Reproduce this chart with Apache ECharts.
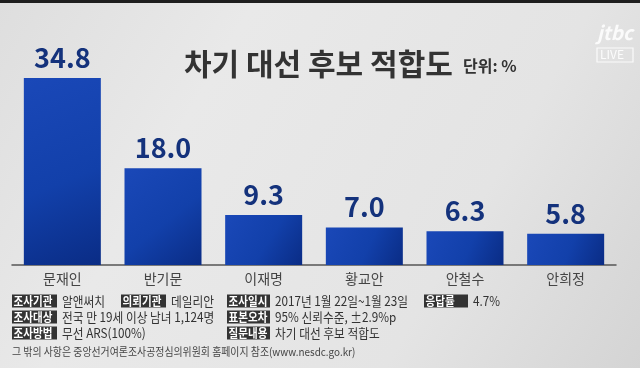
<!DOCTYPE html>
<html><head><meta charset="utf-8">
<script src="https://cdn.jsdelivr.net/npm/echarts@6/dist/echarts.min.js"></script>
<style>html,body{margin:0;padding:0;background:#e2e2e2}#c{width:640px;height:368px}</style>
</head><body><div id="c"></div>
<script>
const categories = ['문재인','반기문','이재명','황교안','안철수','안희정'];
const values = [34.8, 18.0, 9.3, 7.0, 6.3, 5.8];
const titleText = '차기 대선 후보 적합도';
const unitText = '단위: %';
const infoLabels = ['조사기관','의뢰기관','조사일시','응답률','조사대상','표본오차','조사방법','질문내용'];
const infoValues = ['알앤써치','데일리안','2017년 1월 22일~1월 23일','4.7%','전국 만 19세 이상 남녀 1,124명','95% 신뢰수준, ±2.9%p','무선 ARS(100%)','차기 대선 후보 적합도'];
const footerText = '그 밖의 사항은 중앙선거여론조사공정심의위원회 홈페이지 참조(www.nesdc.go.kr)';

const FONT = '"Noto Sans CJK KR", "Noto Sans", sans-serif';
// layout for info boxes: [x, y, boxWidth]
const infoPos = [[12,301,45],[121,301,45],[227,301,43],[424,301,44],[12,317,45],[227,317,43],[12,333,45],[227,333,43]];
const graphics = [
  {type:'rect', shape:{x:0,y:0,width:640,height:3}, style:{fill:'#1e1e1e'}},
  {type:'text', x:463, y:66, style:{text:unitText, font:'bold 16px '+FONT, fill:'#333', textVerticalAlign:'middle'}},
  {type:'text', x:597, y:23, style:{text:'jtbc', font:'bold italic 19px '+FONT, fill:'rgba(255,255,255,0.85)'}},
  {type:'rect', shape:{x:597,y:48,width:36,height:14}, style:{fill:'none', stroke:'rgba(255,255,255,0.85)', lineWidth:1.2}},
  {type:'text', x:600, y:48, style:{text:'LIVE', font:'12px '+FONT, fill:'rgba(255,255,255,0.9)'}},
  {type:'text', x:12, y:352, scaleX:0.9, style:{text:footerText, font:'11px '+FONT, fill:'#444', textVerticalAlign:'middle'}}
];
infoLabels.forEach((lab,i)=>{
  const [x,y,w] = infoPos[i];
  graphics.push({type:'rect', shape:{x:x,y:y-6.5,width:w,height:13}, style:{fill:'#333'}});
  graphics.push({type:'text', x:x+1.5, y:y, scaleX:0.88, style:{text:lab, font:'bold 12px '+FONT, fill:'#fff', textVerticalAlign:'middle', textAlign:'left'}});
  graphics.push({type:'text', x:x+w+5, y:y, scaleX:0.9, style:{text:infoValues[i], font:'13px '+FONT, fill:'#333', textVerticalAlign:'middle', textAlign:'left'}});
});

const chart = echarts.init(document.getElementById('c'));
chart.setOption({
  backgroundColor: new echarts.graphic.LinearGradient(0,0,1,1,[
    {offset:0,color:'#dedede'},{offset:0.3,color:'#e9e9e9'},{offset:0.7,color:'#e4e4e4'},{offset:1,color:'#d4d4d4'}]),
  animation:false,
  title:{text:titleText, left:179, top:44, textStyle:{fontFamily:FONT, fontSize:30, fontWeight:'bold', color:'#333'}},
  grid:{left:12, right:24, top:78, bottom:103},
  xAxis:{type:'category', data:categories,
    axisLine:{lineStyle:{color:'#555', width:1.5}}, axisTick:{show:false},
    axisLabel:{fontFamily:FONT, fontSize:14, color:'#444', margin:7}},
  yAxis:{type:'value', min:0, max:34.8, show:false, splitLine:{show:false}},
  series:[{type:'bar', data:values, barWidth:77,
    itemStyle:{color:new echarts.graphic.LinearGradient(0,0,1,1,[
      {offset:0,color:'#1a48b8'},{offset:0.55,color:'#1240aa'},{offset:1,color:'#0a2c85'}])},
    label:{show:true, position:'top', distance:7, fontFamily:FONT, fontSize:27, fontWeight:'bold', color:'#14327c',
      formatter:p=>p.value.toFixed(1)}}],
  graphic: graphics
});
</script></body></html>
